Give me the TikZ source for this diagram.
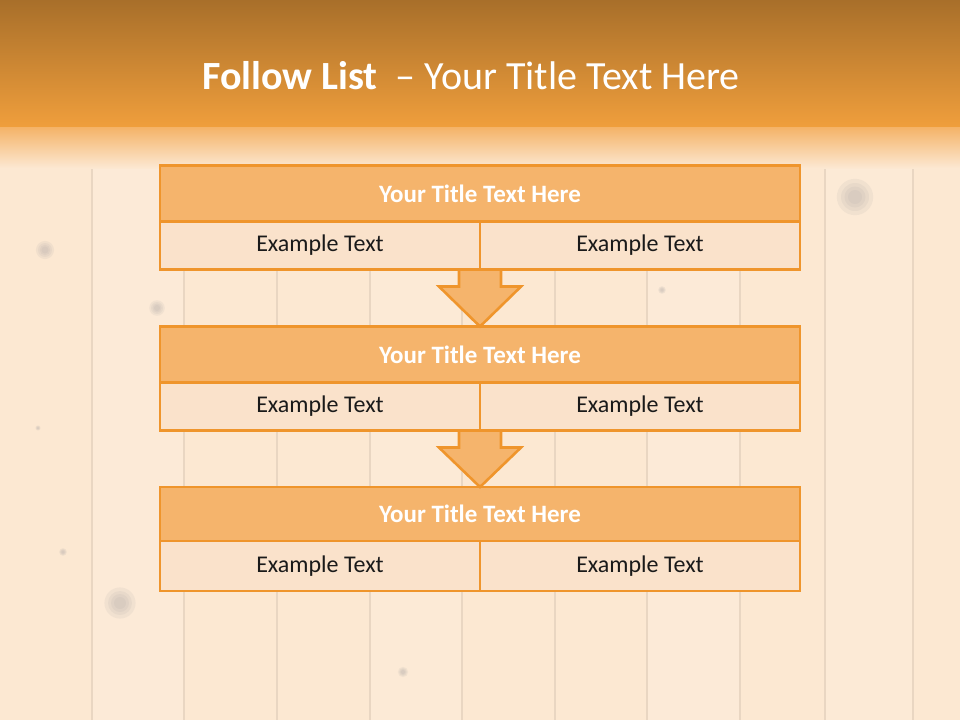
\documentclass[tikz,border=0pt]{standalone}
\usepackage{fontspec}
\setmainfont{Carlito}
\usetikzlibrary{calc}
\definecolor{orangeline}{HTML}{EF952C}
\definecolor{titlefill}{HTML}{F5B46C}
\definecolor{cellfill}{HTML}{FAE2CB}
\definecolor{wood}{HTML}{FCE8D2}
\definecolor{plank}{HTML}{E9D6C2}
\definecolor{knotc}{HTML}{A8A4A4}
\definecolor{bandtop}{HTML}{A86F2A}
\definecolor{bandbot}{HTML}{EF9E3C}
\definecolor{fadetop}{HTML}{F4B062}
\definecolor{txt}{HTML}{1A1A1A}
\begin{document}
\begin{tikzpicture}[x=1pt,y=-1pt,
  titlerow/.style={draw=orangeline,line width=2.6pt,fill=titlefill,minimum width=640pt,minimum height=56pt,inner sep=0pt,outer sep=0pt,text=white,font=\fontsize{25}{30}\selectfont\bfseries},
  cell/.style={draw=orangeline,line width=2.6pt,fill=cellfill,minimum width=320pt,minimum height=48pt,inner sep=0pt,outer sep=0pt,text=txt,font=\fontsize{24}{29}\selectfont},
  downarrow/.style={draw=orangeline,line width=2.6pt,fill=titlefill,line join=miter},
  plankline/.style={plank,line width=2pt},
  knot/.style={fill=knotc,opacity=0.12}]
\useasboundingbox (0,0) rectangle (960,720);
% wood background
\fill[wood] (0,0) rectangle (960,720);
\fill[white,opacity=0.12] (92,0) rectangle (184,720);
\fill[white,opacity=0.10] (370,0) rectangle (462,720);
\fill[white,opacity=0.12] (647,0) rectangle (740,720);
\fill[white,opacity=0.10] (825,0) rectangle (913,720);
\foreach \x in {92,184,277,370,462,555,647,740,825,913}
  \draw[plankline] (\x,125) -- (\x,720);
\foreach \cx/\cy/\r in {45/250/7,157/308/6,855/197/14,120/603/12,403/672/4,662/290/3,63/552/3,38/428/2}{
  \fill[knot] (\cx,\cy) circle ({\r*1.3});
  \fill[knot] (\cx,\cy) circle ({\r*1.0});
  \fill[knot] (\cx,\cy) circle ({\r*0.75});
  \fill[knot] (\cx,\cy) circle ({\r*0.5});
}
% header band
\shade[top color=fadetop,bottom color=wood] (0,125) rectangle (960,168);
\shade[top color=bandtop,bottom color=bandbot] (0,0) rectangle (960,126);
\node[text=white,font=\fontsize{40}{48}\selectfont] (title) at (471,76) {\textbf{Follow List}\ \ – Your Title Text Here};
% boxes
\node[titlerow] (t1) at (480,193.5) {Your Title Text Here};
\node[cell,anchor=north east] (a1) at (t1.south) {Example Text};
\node[cell,anchor=north west] (b1) at (t1.south) {Example Text};
\node[titlerow] (t2) at (480,354.5) {Your Title Text Here};
\node[cell,anchor=north east] (a2) at (t2.south) {Example Text};
\node[cell,anchor=north west] (b2) at (t2.south) {Example Text};
\node[titlerow,minimum height=54pt] (t3) at (480,514) {Your Title Text Here};
\node[cell,anchor=north east,minimum height=50pt] (a3) at (t3.south) {Example Text};
\node[cell,anchor=north west,minimum height=50pt] (b3) at (t3.south) {Example Text};
% arrows
\draw[downarrow] ($(a1.south east)+(-21,0)$) -- ($(a1.south east)+(21,0)$) -- ($(a1.south east)+(21,17)$) -- ($(a1.south east)+(41,17)$) -- (t2.north) -- ($(a1.south east)+(-41,17)$) -- ($(a1.south east)+(-21,17)$) -- cycle;
\draw[downarrow] ($(a2.south east)+(-21,0)$) -- ($(a2.south east)+(21,0)$) -- ($(a2.south east)+(21,17)$) -- ($(a2.south east)+(41,17)$) -- (t3.north) -- ($(a2.south east)+(-41,17)$) -- ($(a2.south east)+(-21,17)$) -- cycle;
% redraw lower box borders over arrow ends
\draw[orangeline,line width=2.6pt] (a1.south west) -- (b1.south east);
\draw[orangeline,line width=2.6pt] (a2.south west) -- (b2.south east);
\end{tikzpicture}
\end{document}
